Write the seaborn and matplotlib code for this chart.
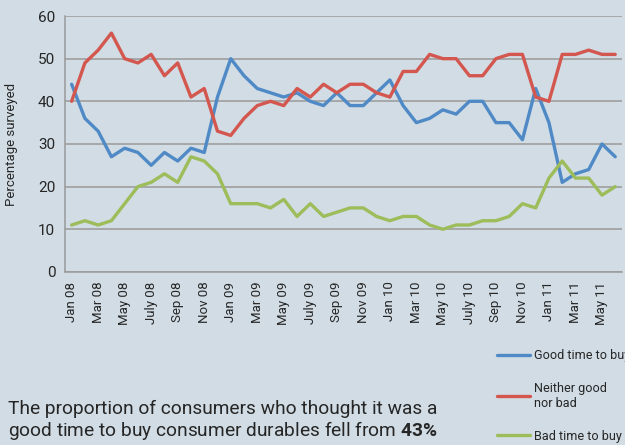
import matplotlib
matplotlib.use("Agg")
import matplotlib.pyplot as plt
import numpy as np
import pandas as pd
import seaborn as sns

# monthly survey, Jan 2008 - Jun 2011
months = ["Jan 08", "Feb 08", "Mar 08", "Apr 08", "May 08", "Jun 08", "July 08", "Aug 08",
          "Sep 08", "Oct 08", "Nov 08", "Dec 08",
          "Jan 09", "Feb 09", "Mar 09", "Apr 09", "May 09", "Jun 09", "July 09", "Aug 09",
          "Sep 09", "Oct 09", "Nov 09", "Dec 09",
          "Jan 10", "Feb 10", "Mar 10", "Apr 10", "May 10", "Jun 10", "July 10", "Aug 10",
          "Sep 10", "Oct 10", "Nov 10", "Dec 10",
          "Jan 11", "Feb 11", "Mar 11", "Apr 11", "May 11", "Jun 11"]
good = [44, 36, 33, 27, 29, 28, 25, 28, 26, 29, 28, 41,
        50, 46, 43, 42, 41, 42, 40, 39, 42, 39, 39, 42,
        45, 39, 35, 36, 38, 37, 40, 40, 35, 35, 31, 43,
        35, 21, 23, 24, 30, 27]
neither = [40, 49, 52, 56, 50, 49, 51, 46, 49, 41, 43, 33,
           32, 36, 39, 40, 39, 43, 41, 44, 42, 44, 44, 42,
           41, 47, 47, 51, 50, 50, 46, 46, 50, 51, 51, 41,
           40, 51, 51, 52, 51, 51]
bad = [11, 12, 11, 12, 16, 20, 21, 23, 21, 27, 26, 23,
       16, 16, 16, 15, 17, 13, 16, 13, 14, 15, 15, 13,
       12, 13, 13, 11, 10, 11, 11, 12, 12, 13, 16, 15,
       22, 26, 22, 22, 18, 20]
series_names = ["Good time to buy", "Neither good\nnor bad", "Bad time to buy"]
colors = ["#4f8ac6", "#d4574f", "#9dbd5a"]

df = pd.DataFrame({"month": months, "idx": np.arange(len(months)),
                   series_names[0]: good, series_names[1]: neither, series_names[2]: bad})
long = df.melt(id_vars=["month", "idx"], var_name="series", value_name="pct")

bg = "#d1dce4"
sns.set_style("white")
plt.rcParams["font.family"] = ["Roboto", "DejaVu Sans"]
plt.rcParams["mathtext.fontset"] = "custom"
plt.rcParams["mathtext.bf"] = "Roboto:bold"

fig = plt.figure(figsize=(6.25, 4.45), dpi=100, facecolor=bg)
ax = fig.add_axes([0.104, 0.389, 0.891, 0.575], facecolor=bg)

sns.lineplot(data=long, x="idx", y="pct", hue="series", hue_order=series_names,
             palette=colors, linewidth=2.4, ax=ax, legend=False)

ax.set_xlim(-0.5, len(months) - 0.5)
ax.set_ylim(0, 60)
ax.set_yticks(range(0, 61, 10))
ax.yaxis.grid(True, color="#999999", linewidth=1.1)
ax.set_axisbelow(True)
for s in ["top", "right"]:
    ax.spines[s].set_visible(False)
for s in ["left", "bottom"]:
    ax.spines[s].set_color("#9a9a9a")
    ax.spines[s].set_linewidth(1.1)

lab_pos = np.arange(0, len(months), 2)
ax.set_xticks(lab_pos)
ax.set_xticklabels([months[i] for i in lab_pos], rotation=90, fontsize=9.5)
ax.set_xticks(np.arange(-0.5, len(months), 2), minor=True)
ax.tick_params(axis="x", which="major", length=0, pad=7)
ax.tick_params(axis="x", which="minor", length=4, color="#9a9a9a", width=1.1)
ax.tick_params(axis="y", length=4, color="#9a9a9a", width=1.1, labelsize=11, pad=3)
ax.set_xlabel("")
ax.set_ylabel("Percentage surveyed", fontsize=9.5, labelpad=14)

handles = [plt.Line2D([], [], color=c, linewidth=2.4) for c in colors]
fig.legend(handles, series_names, loc="upper left", bbox_to_anchor=(0.795, 0.215),
           frameon=False, fontsize=9.1, handlelength=2.6, handletextpad=0.35,
           labelspacing=1.55, borderaxespad=0, borderpad=0)

fig.text(0.012, 0.07, "The proportion of consumers who thought it was a",
         fontsize=13.8, ha="left", va="baseline")
fig.text(0.012, 0.02, "good time to buy consumer durables fell from $\\mathbf{43\\%}$",
         fontsize=13.8, ha="left", va="baseline")
fig.text(0.012, -0.038, "in December 2010 to 27% in June 2011.",
         fontsize=13.8, ha="left", va="baseline")

fig.savefig("out.png", dpi=100, facecolor=bg)
